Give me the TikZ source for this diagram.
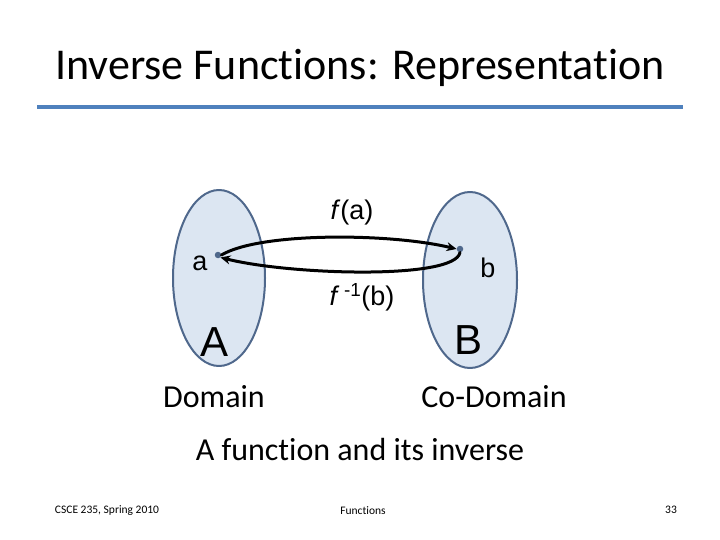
\documentclass[tikz,border=0pt]{standalone}
\usepackage{fontspec}
\setmainfont[Ligatures={NoCommon},RawFeature={-liga;-clig;-calt}]{Carlito}
\newfontfamily\arialfont{Liberation Sans}
\usetikzlibrary{arrows.meta}
\definecolor{setfill}{RGB}{220,230,242}
\definecolor{setedge}{RGB}{79,104,140}
\definecolor{rulecol}{RGB}{79,129,189}
\begin{document}
\begin{tikzpicture}[x=1pt,y=-1pt,line join=round,line cap=round,>={Stealth[length=10pt,width=9pt]}]
	\useasboundingbox (0,0) rectangle (720,540);
	\tikzset{set/.style={draw=setedge,fill=setfill,line width=2pt},
		dot/.style={circle,fill=setedge,inner sep=0pt,minimum size=6.5pt},
		map/.style={->,line width=3pt}}
	% title and rule
	\node (title) at (360,68) {\fontsize{44}{48}\selectfont Inverse Functions: Representation};
	\draw[rulecol,line width=3.5pt,line cap=butt] (37,107)coordinate(L)--(683,107)coordinate(R);
	% the two sets
	\path[set] (219,278) ellipse (46 and 88);
	\path[set] (470,280) ellipse (47 and 88);
	\node[dot] (a) at (218,255) {};
	\node[dot] (b) at (460,249) {};
	\foreach \n/\p/\t in {la/{200,263}/a,lb/{488,268}/b,fa/{352,213}/{\textit{f}(a)},fb/{362,297}/{\textit{f}\,\textsuperscript{-1}(b)}}
		\node[font=\arialfont\fontsize{27}{30}\selectfont] (\n) at (\p) {\t};
	\node[font=\arialfont\fontsize{42}{46}\selectfont] (A) at (215,342) {A};
	\node[font=\arialfont\fontsize{42}{46}\selectfont] (B) at (469,340) {B};
	\draw[map] (a.east) .. controls (260,232) and (390,233) .. (b.west);
	\draw[map] (b.south) .. controls (455,280) and (290,275) .. (a.south east);
	% captions
	\node[font=\fontsize{32}{36}\selectfont] (dom) at (214,397) {Domain};
	\node[font=\fontsize{32}{36}\selectfont] (cod) at (494,397) {Co-Domain};
	\node[font=\fontsize{32}{36}\selectfont] (cap) at (360,450) {A function and its inverse};
	% footer
	\node[font=\fontsize{11.5}{14}\selectfont] (left) at (107,511) {CSCE 235, Spring 2010};
	\node[font=\fontsize{11.5}{14}\selectfont] (mid) at (363,511) {Functions};
	\node[font=\fontsize{11.5}{14}\selectfont] (num) at (671,510) {33};
\end{tikzpicture}
\end{document}
